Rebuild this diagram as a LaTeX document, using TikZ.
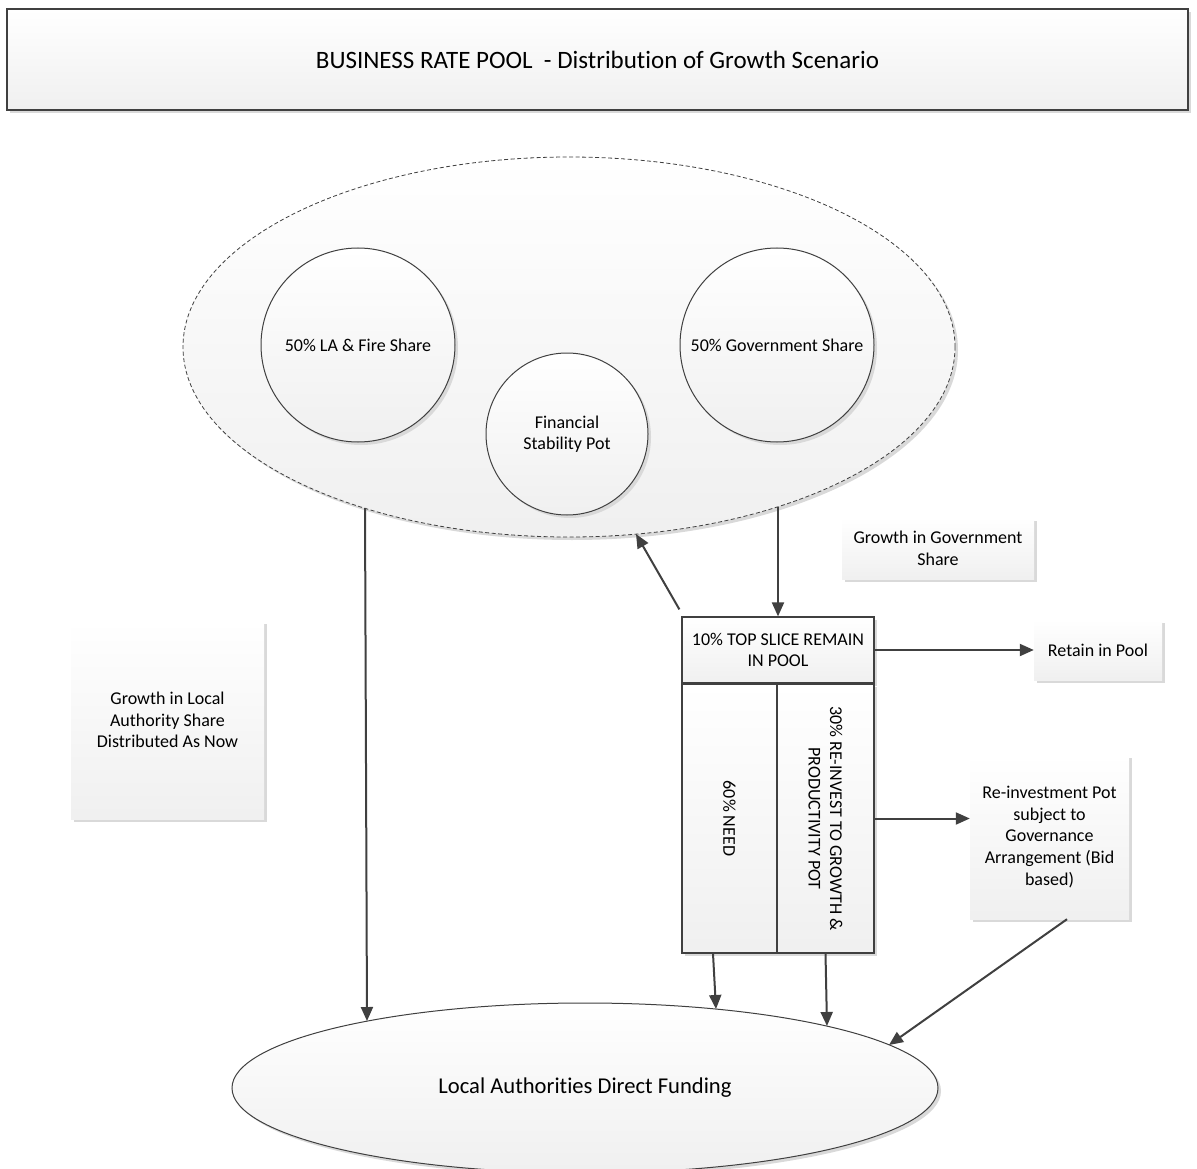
\documentclass[tikz,border=0pt]{standalone}
\usepackage{fontspec}
\setmainfont[Ligatures=NoCommon]{Carlito}
\usetikzlibrary{shapes.geometric,arrows.meta,shadows,calc}
\definecolor{ln}{HTML}{404040}
\definecolor{shd}{HTML}{D9D9D9}
\begin{document}
\begin{tikzpicture}[x=1pt,y=-1pt,
  body/.style={font=\fontsize{18}{21.6}\selectfont, align=center, text=black},
  grad/.style={top color=white, bottom color=black!6},
  shad/.style={drop shadow={shadow xshift=3pt,shadow yshift=-3pt,fill=shd,opacity=1}},
  panel/.style={rectangle, grad, shad, inner sep=0pt, body},
  framed/.style={panel, draw=ln, line width=1.2pt},
  disc/.style={circle, grad, shad, draw=ln, line width=1pt, inner sep=0pt, body},
  arr/.style={draw=ln, line width=2pt, -{Triangle[length=14pt,width=12pt]}},
]
\fill[white] (0,0) rectangle (1197,1169);
\useasboundingbox (0,0) rectangle (1197,1169);

% title
\node[framed, minimum width=1181pt, minimum height=101pt,
      font=\fontsize{25}{30}\selectfont] (title) at (597.5,59.5)
      {BUSINESS RATE POOL\ \ - Distribution of Growth Scenario};

% pool ellipse and circles
\node[ellipse, grad, shad, draw=ln, line width=0.8pt, dash pattern=on 4pt off 2.5pt,
      minimum width=772pt, minimum height=380pt, inner sep=0pt, outer sep=0pt] (pool) at (569,347) {};
\node[disc, minimum size=194pt] (la) at (358,345) {50\% LA \& Fire Share};
\node[disc, minimum size=194pt] (gov) at (777,345) {50\% Government Share};
\node[disc, minimum size=162pt] (fsp) at (567,434) {Financial\\Stability Pot};

% side labels
\node[panel, minimum width=192pt, minimum height=61pt] (govg) at (938,548.5)
      {Growth in Government\\Share};
\node[panel, minimum width=193pt, minimum height=198pt] (lag) at (167.5,720)
      {Growth in Local\\Authority Share\\Distributed As Now};
\node[panel, minimum width=128pt, minimum height=60pt] (retain) at (1098,650)
      {Retain in Pool};
\node[panel, minimum width=159pt, minimum height=164pt] (reinv) at (1049.5,837)
      {Re-investment Pot\\subject to\\Governance\\Arrangement (Bid\\based)};

% top slice box and cells
\node[framed, minimum width=192pt, minimum height=66pt] (top) at (778,650)
      {10\% TOP SLICE REMAIN\\IN POOL};
\node[framed, minimum width=95pt, minimum height=269pt] (cellL) at (729.5,818.5) {};
\node[framed, minimum width=97pt, minimum height=269pt] (cellR) at (825.5,818.5) {};
\node[body, rotate=-90] (needtxt) at (cellL.center) {60\% NEED};
\node[body, rotate=-90] (reinvtxt) at (cellR.center) {30\% RE-INVEST TO GROWTH \&\\PRODUCTIVITY POT};

% bottom ellipse
\node[ellipse, grad, shad, draw=ln, line width=1pt, inner sep=0pt, outer sep=0pt,
      minimum width=706pt, minimum height=170pt,
      font=\fontsize{22.6}{27}\selectfont] (ladf) at (585,1088)
      {Local Authorities Direct Funding};

% connectors
\draw[arr] ($(pool.center)+(-204,161)$) -- ($(ladf.center)+(-218,-67)$);
\draw[arr] ($(pool.center)+(209,160)$) -- (top.north);
\draw[arr] ([shift={(-2pt,7pt)}]top.north west) -- ($(pool.center)+(67,187)$);
\draw[arr] (top.east) -- (retain.west);
\draw[arr] (cellR.east) -- (cellR.east -| reinv.west);
\draw[arr] ([xshift=-16.5pt]cellL.south) -- ($(ladf.center)+(131,-79)$);
\draw[arr] (cellR.south) -- ($(ladf.center)+(242,-62)$);
\draw[arr] ([xshift=17.5pt]reinv.south) -- ($(ladf.center)+(304,-43)$);
\end{tikzpicture}
\end{document}
